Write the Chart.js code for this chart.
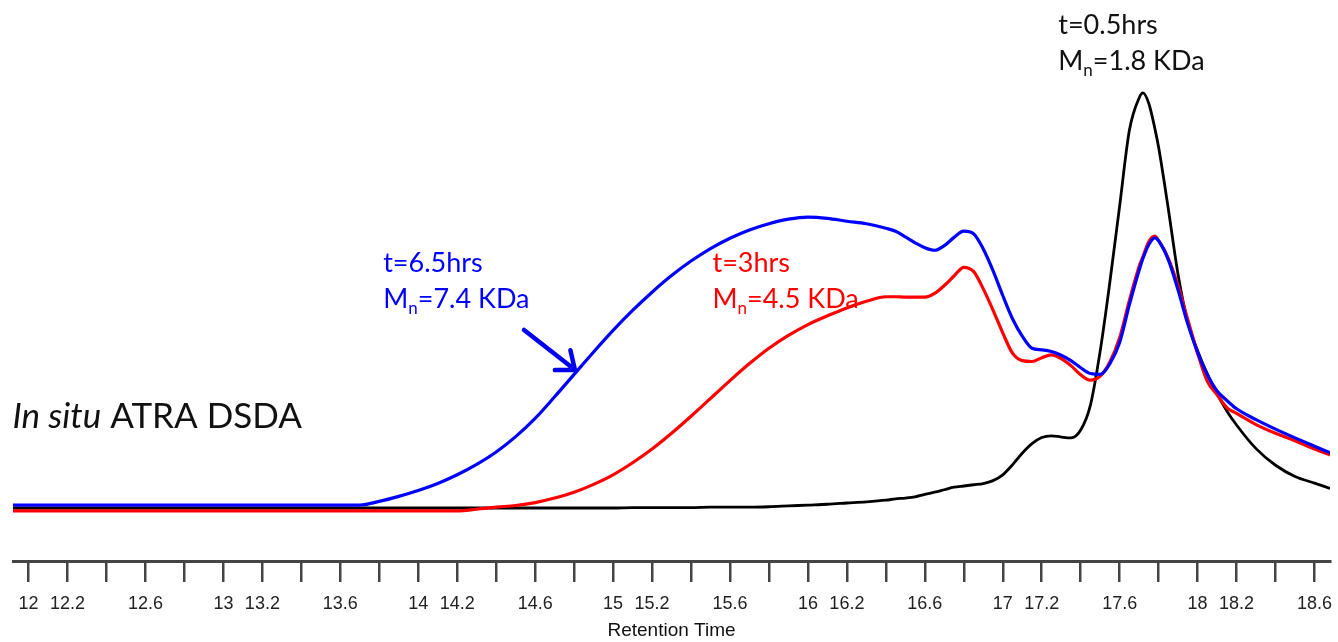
<!DOCTYPE html>
<html>
<head>
<meta charset="utf-8">
<title>In situ ATRA DSDA - GPC traces</title>
<script src="https://cdn.jsdelivr.net/npm/chart.js@4/dist/chart.umd.min.js"></script>
<style>
    html, body { margin: 0; padding: 0; background: #fff; overflow: hidden; }
    #wrap { width: 1338px; height: 642px; overflow: hidden; }
    #gpc { display: block; }
</style>
</head>
<body>
<div id="wrap"><canvas id="gpc" width="1343" height="642"></canvas></div>
<script>
// retention time (min) shared by all three traces
var retentionTime = [11.92, 12.0, 12.5, 13.0, 13.5,
    13.6, 13.7, 13.8, 13.9, 14.0, 14.1, 14.2, 14.3, 14.4, 14.5, 14.6, 14.7, 14.8, 14.9, 15.0,
    15.1, 15.2, 15.3, 15.4, 15.5, 15.6, 15.7, 15.8, 15.9, 16.0, 16.1, 16.2, 16.3, 16.4,
    16.45, 16.5, 16.55, 16.6, 16.65, 16.7, 16.75, 16.8, 16.85, 16.9, 16.95, 17.0, 17.05, 17.1,
    17.15, 17.2, 17.25, 17.3, 17.35, 17.4, 17.45, 17.5, 17.55, 17.6, 17.65, 17.7,
    17.72, 17.75, 17.78, 17.8,
    17.85, 17.9, 17.95, 18.0, 18.05, 18.1, 18.15, 18.2,
    18.3, 18.4, 18.5, 18.6, 18.68];

// detector response, t = 6.5 hrs
var trace65h = [0.7, 0.7, 0.7, 0.7, 0.7,
    0.7, 0.7, 1.6, 2.8, 4.2, 5.9, 8.0, 10.5, 13.5, 17.2, 21.6, 26.8, 32.2, 37.6, 42.8,
    47.6, 52.0, 56.0, 59.5, 62.5, 65.0, 67.0, 68.5, 69.6, 70.1, 69.8, 69.1, 68.5, 67.4,
    66.7, 65.3, 63.9, 62.7, 62.1, 63.2, 65.2, 66.7, 66.1, 62.4, 57.2, 51.2, 45.6, 41.4,
    38.5, 38.1, 37.7, 36.8, 35.5, 33.8, 32.4, 32.2, 34.8, 39.9, 49.0, 57.3,
    60.2, 63.5, 65.1, 64.4,
    59.8, 52.5, 44.3, 37.5, 32.1, 28.2, 25.9, 23.9,
    21.3, 19.0, 16.9, 14.9, 13.3];

// detector response, t = 3 hrs
var trace3h = [-0.7, -0.7, -0.7, -0.7, -0.7,
    -0.7, -0.7, -0.7, -0.7, -0.7, -0.7, -0.7, -0.3, 0.2, 0.6, 1.3, 2.4, 3.8, 5.7, 8.0,
    10.9, 14.2, 18.0, 22.1, 26.4, 30.7, 34.8, 38.5, 41.6, 44.2, 46.3, 48.2, 49.8, 50.9,
    50.9, 50.8, 50.8, 50.8, 51.7, 53.6, 55.9, 58.0, 57.0, 52.8, 47.7, 42.2, 37.3, 35.5,
    35.3, 36.2, 36.9, 36.0, 34.3, 32.1, 30.8, 31.8, 35.2, 41.0, 50.0, 58.2,
    60.6, 64.2, 65.5, 64.4,
    60.1, 53.5, 45.3, 37.3, 30.5, 27.3, 24.2, 22.8,
    20.1, 18.0, 16.2, 14.2, 12.8];

// detector response, t = 0.5 hrs
var trace05h = [0, 0, 0, 0, 0,
    0, 0, 0, 0, 0, 0, 0, 0, 0, 0, 0, 0, 0, 0, 0,
    0.1, 0.1, 0.1, 0.1, 0.2, 0.2, 0.2, 0.3, 0.5, 0.7, 0.9, 1.2, 1.5, 1.9,
    2.2, 2.4, 2.7, 3.3, 3.8, 4.4, 5.0, 5.3, 5.6, 5.9, 6.6, 8.0, 10.4, 13.2,
    15.5, 17.0, 17.4, 17.1, 16.9, 18.8, 24.8, 37.8, 54.5, 72.8, 91.0, 98.8,
    100, 97.4, 91.6, 86.9,
    72.0, 56.2, 44.7, 37.9, 32.3, 27.5, 23.4, 20.0,
    14.3, 10.3, 7.6, 6.0, 4.7];

var tickValues = [12, 12.2, 12.4, 12.6, 12.8, 13, 13.2, 13.4, 13.6, 13.8, 14, 14.2, 14.4, 14.6, 14.8,
    15, 15.2, 15.4, 15.6, 15.8, 16, 16.2, 16.4, 16.6, 16.8, 17, 17.2, 17.4, 17.6, 17.8,
    18, 18.2, 18.4, 18.6];
var tickLabels = ['12', '12.2', '', '12.6', '', '13', '13.2', '', '13.6', '', '14', '14.2', '', '14.6', '',
    '15', '15.2', '', '15.6', '', '16', '16.2', '', '16.6', '', '17', '17.2', '', '17.6', '',
    '18', '18.2', '', '18.6'];

function toPoints(values) {
    return values.map(function (v, i) { return { x: retentionTime[i], y: v }; });
}

// "t=..." line with an "Mn=..." line underneath
function drawNote(ctx, x, y, color, first, rest) {
    ctx.fillStyle = color;
    ctx.font = '27px Lato';
    ctx.fillText(first, x, y);
    var y2 = y + 36;
    ctx.fillText('M', x, y2);
    var w = ctx.measureText('M').width;
    ctx.font = '17px Lato';
    ctx.fillText('n', x + w, y2 + 6);
    var w2 = ctx.measureText('n').width;
    ctx.font = '27px Lato';
    ctx.fillText(rest, x + w + w2, y2);
}

var notesPlugin = {
    id: 'notes',
    afterDatasetsDraw: function (chart) {
        var ctx = chart.ctx;
        var xs = chart.scales.x, ys = chart.scales.y;
        ctx.save();
        ctx.textAlign = 'left';
        ctx.textBaseline = 'alphabetic';

        drawNote(ctx, xs.getPixelForValue(17.285), ys.getPixelForValue(114.3), '#111', 't=0.5hrs', '=1.8 KDa');
        drawNote(ctx, xs.getPixelForValue(13.82), ys.getPixelForValue(56.8), '#0000ff', 't=6.5hrs', '=7.4 KDa');
        drawNote(ctx, xs.getPixelForValue(15.51), ys.getPixelForValue(56.8), '#ff0000', 't=3hrs', '=4.5 KDa');

        // sample label
        var lx = xs.getPixelForValue(11.917), ly = ys.getPixelForValue(19.3);
        ctx.fillStyle = '#111';
        ctx.font = 'italic 35px Lato';
        ctx.fillText('In situ', lx, ly);
        var iw = ctx.measureText('In situ').width;
        ctx.font = '35px Lato';
        ctx.fillText(' ATRA DSDA', lx + iw, ly);

        // arrow pointing at the 6.5 hrs trace
        var x0 = xs.getPixelForValue(14.543), y0 = ys.getPixelForValue(42.9);
        var x1 = xs.getPixelForValue(14.804), y1 = ys.getPixelForValue(33.3);
        var ang = Math.atan2(y0 - y1, x0 - x1);
        var head = 20, spread = 0.68;
        ctx.strokeStyle = '#0000ee';
        ctx.lineWidth = 4.5;
        ctx.lineCap = 'round';
        ctx.lineJoin = 'round';
        ctx.beginPath();
        ctx.moveTo(x0, y0);
        ctx.lineTo(x1, y1);
        ctx.moveTo(x1 + head * Math.cos(ang - spread), y1 + head * Math.sin(ang - spread));
        ctx.lineTo(x1, y1);
        ctx.lineTo(x1 + head * Math.cos(ang + spread), y1 + head * Math.sin(ang + spread));
        ctx.stroke();
        ctx.restore();
    }
};

var ctx = document.getElementById('gpc').getContext('2d');
var chart = new Chart(ctx, {
    type: 'line',
    data: {
        datasets: [{
            label: 't=6.5hrs',
            data: toPoints(trace65h),
            borderColor: '#0000ff',
            borderWidth: 3.2
        }, {
            label: 't=3hrs',
            data: toPoints(trace3h),
            borderColor: '#ff0000',
            borderWidth: 3.2
        }, {
            label: 't=0.5hrs',
            data: toPoints(trace05h),
            borderColor: '#000000',
            borderWidth: 2.8
        }]
    },
    options: {
        responsive: false,
        animation: false,
        devicePixelRatio: 1,
        parsing: false,
        elements: {
            point: { radius: 0 },
            line: { cubicInterpolationMode: 'monotone', fill: false }
        },
        layout: {
            padding: { left: 13, right: 0, top: 0, bottom: 0 }
        },
        plugins: {
            legend: { display: false },
            tooltip: { enabled: false }
        },
        scales: {
            x: {
                type: 'linear',
                min: 11.92,
                max: 18.68,
                afterBuildTicks: function (scale) {
                    scale.ticks = tickValues.map(function (v) { return { value: v }; });
                },
                afterFit: function (scale) {
                    scale.height = 81;
                },
                ticks: {
                    autoSkip: false,
                    maxRotation: 0,
                    padding: 11,
                    color: '#222',
                    font: { family: 'Liberation Sans', size: 18 },
                    callback: function (value, index) {
                        return tickLabels[index];
                    }
                },
                grid: {
                    drawOnChartArea: false,
                    drawTicks: true,
                    tickLength: 21,
                    color: '#444',
                    lineWidth: 2.5
                },
                border: { display: true, color: '#444', width: 3 },
                title: {
                    display: true,
                    text: 'Retention Time',
                    color: '#111',
                    font: { family: 'Liberation Sans', size: 19 },
                    padding: { top: 0, bottom: 0 }
                }
            },
            y: {
                display: false,
                min: -12.77,
                max: 122.4
            }
        }
    },
    plugins: [notesPlugin]
});
</script>
</body>
</html>
